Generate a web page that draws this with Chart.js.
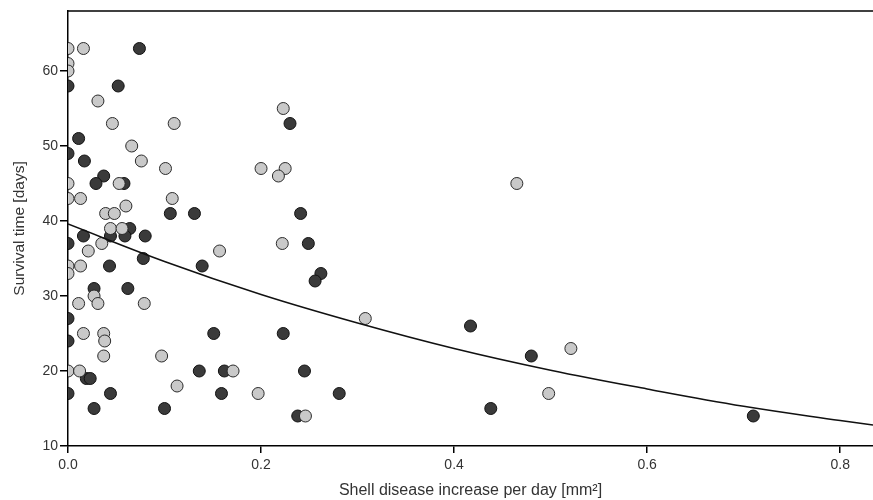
<!DOCTYPE html>
<html>
<head>
<meta charset="utf-8">
<script src="https://cdn.jsdelivr.net/npm/chart.js@4"></script>
<style>
  body { margin: 0; background: #fff; }
  #wrap { width: 873px; height: 500px; position: relative; }
</style>
</head>
<body>
<div id="wrap"><canvas id="grafico"></canvas></div>
<script>
// light grey group
const lightX = [0, 0.016, 0, 0, 0.031, 0.046, 0.110, 0.223, 0.066, 0.076, 0.101, 0.200, 0.225, 0.218,
  0, 0.053, 0.465, 0, 0.013, 0.108, 0.060, 0.039, 0.048, 0.044, 0.056, 0.035, 0.222, 0.021, 0.157,
  0, 0.013, 0, 0.027, 0.011, 0.031, 0.079, 0.308, 0.016, 0.037, 0.038, 0.521, 0.037, 0.097,
  0, 0.012, 0.171, 0.113, 0.197, 0.498, 0.246];
const lightY = [63, 63, 61, 60, 56, 53, 53, 55, 50, 48, 47, 47, 47, 46,
  45, 45, 45, 43, 43, 43, 42, 41, 41, 39, 39, 37, 37, 36, 36,
  34, 34, 33, 30, 29, 29, 29, 27, 25, 25, 24, 23, 22, 22,
  20, 20, 20, 18, 17, 17, 14];

// dark grey group
const darkX = [0.074, 0, 0.052, 0.230, 0.011, 0, 0.017, 0.037, 0.029, 0.058, 0.106, 0.131, 0.241,
  0.064, 0.016, 0.044, 0.059, 0.080, 0, 0.249, 0.078, 0.043, 0.139, 0.262, 0.256, 0.027, 0.062,
  0, 0.417, 0.151, 0.223, 0, 0.480, 0.136, 0.162, 0.245, 0.019, 0.023,
  0, 0.044, 0.159, 0.281, 0.027, 0.100, 0.438, 0.238, 0.710];
const darkY = [63, 58, 58, 53, 51, 49, 48, 46, 45, 45, 41, 41, 41,
  39, 38, 38, 38, 38, 37, 37, 35, 34, 34, 33, 32, 31, 31,
  27, 26, 25, 25, 24, 22, 20, 20, 20, 19, 19,
  17, 17, 17, 17, 15, 15, 15, 14, 14];

// fitted curve
const fitX = [0, 0.1, 0.2, 0.3, 0.4, 0.5, 0.6, 0.7, 0.8, 0.834];
const fitY = [39.6, 34.6, 30.2, 26.4, 23.0, 20.1, 17.6, 15.3, 13.4, 12.8];

const xTicks = [0, 0.2, 0.4, 0.6, 0.8];
const yTicks = [10, 20, 30, 40, 50, 60];

function pares(xs, ys) {
  return xs.map(function (x, i) { return { x: x, y: ys[i] }; });
}

const molduraTopo = {
  id: 'molduraTopo',
  afterDraw: function (chart) {
    const a = chart.chartArea;
    const ctx = chart.ctx;
    ctx.save();
    ctx.strokeStyle = '#000';
    ctx.lineWidth = 1.5;
    ctx.beginPath();
    ctx.moveTo(a.left, a.top);
    ctx.lineTo(a.right, a.top);
    ctx.stroke();
    ctx.restore();
  }
};

document.addEventListener("DOMContentLoaded", function () {
  new Chart(document.getElementById("grafico"), {
    type: 'scatter',
    data: {
      datasets: [
        {
          type: 'line',
          data: pares(fitX, fitY),
          borderColor: '#111',
          borderWidth: 1.5,
          pointRadius: 0,
          tension: 0.4,
          fill: false
        },
        {
          data: pares(lightX, lightY),
          backgroundColor: '#c9c9c9',
          borderColor: '#2a2a2a',
          borderWidth: 1,
          pointRadius: 6,
          pointHoverRadius: 6
        },
        {
          data: pares(darkX, darkY),
          backgroundColor: '#3a3a3a',
          borderColor: '#111',
          borderWidth: 1,
          pointRadius: 6,
          pointHoverRadius: 6
        }
      ]
    },
    options: {
      responsive: true,
      maintainAspectRatio: false,
      animation: false,
      layout: { autoPadding: false, padding: { top: 11, right: 0, left: 0, bottom: 0 } },
      plugins: {
        legend: { display: false },
        tooltip: { enabled: false }
      },
      scales: {
        x: {
          type: 'linear',
          min: 0,
          max: 0.834,
          afterFit: function (s) { s.height = 54; s.paddingLeft = 0; s.paddingRight = 0; },
          afterBuildTicks: function (s) { s.ticks = xTicks.map(function (v) { return { value: v }; }); },
          border: { display: true, color: '#000', width: 1.5 },
          grid: { drawOnChartArea: false, drawTicks: true, tickLength: 7, color: '#000', lineWidth: 1.5 },
          ticks: {
            padding: 4,
            color: '#333',
            font: { family: 'Liberation Sans', size: 14 },
            callback: function (v) { return Number(v).toFixed(1); }
          },
          title: {
            display: true,
            text: 'Shell disease increase per day [mm²]',
            color: '#333',
            font: { family: 'Liberation Sans', size: 16 },
            padding: { top: 0, bottom: 0 }
          }
        },
        y: {
          type: 'linear',
          min: 10,
          max: 68,
          afterFit: function (s) { s.width = 68; s.paddingTop = 0; s.paddingBottom = 0; },
          afterBuildTicks: function (s) { s.ticks = yTicks.map(function (v) { return { value: v }; }); },
          border: { display: true, color: '#000', width: 1.5 },
          grid: { drawOnChartArea: false, drawTicks: true, tickLength: 8, color: '#000', lineWidth: 1.5 },
          ticks: {
            padding: 2,
            color: '#333',
            font: { family: 'Liberation Sans', size: 14 }
          },
          title: {
            display: true,
            text: 'Survival time [days]',
            color: '#333',
            font: { family: 'Liberation Sans', size: 15.5 },
            padding: { top: 10, bottom: 0 }
          }
        }
      }
    },
    plugins: [molduraTopo]
  });
});
</script>
</body>
</html>
